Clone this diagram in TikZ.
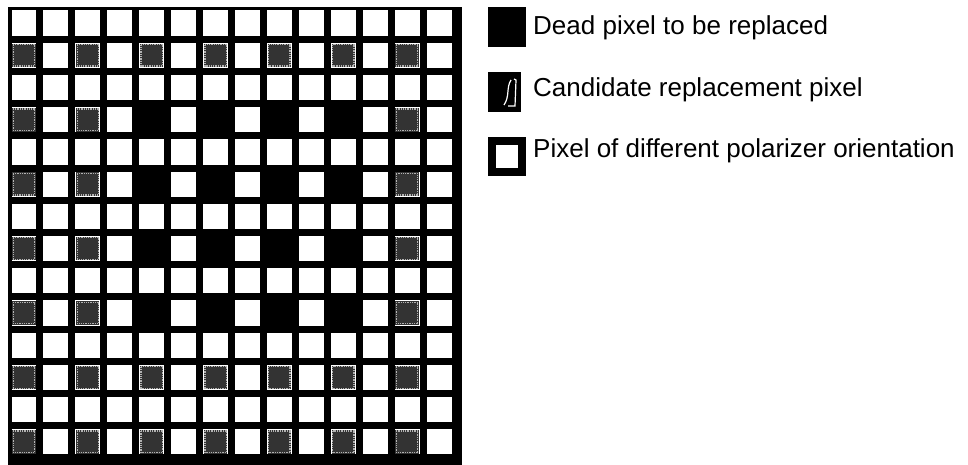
\documentclass[tikz,border=0pt]{standalone}
\usepackage{fontspec}
\setmainfont{Liberation Sans}
\begin{document}
\begin{tikzpicture}[x=1pt,y=-1pt,
  legendtext/.style={anchor=base west,inner sep=0pt,font=\fontsize{26}{30}\selectfont},
  candfill/.style={fill=black!80},
  candedge/.style={draw=black!30,densely dotted,line width=1.3pt}]
\useasboundingbox (0,0) rectangle (968,465);
% grid background (grid lines and dead pixels are black)
\fill[black] (8,7) rectangle (462,465);
\def\px{31.93}\def\py{32.21}
\foreach \r in {1,...,14}{
  \foreach \c in {1,...,14}{
    \pgfmathtruncatemacro\kind{(mod(\r,2)==0 && mod(\c,2)==1) ? ((\r>=4 && \r<=10 && \c>=5 && \c<=11) ? 2 : 1) : 0}
    \pgfmathsetmacro\xa{8+3.5+(\c-1)*\px}
    \pgfmathsetmacro\ya{7+3.5+(\r-1)*\py}
    \pgfmathsetmacro\xb{\xa+\px-7}
    \pgfmathsetmacro\yb{\ya+\py-7}
    \ifnum\kind=0
      \fill[white] (\xa,\ya) rectangle (\xb,\yb);
    \fi
    \ifnum\kind=1
      \fill[white] (\xa,\ya) rectangle (\xb,\yb);
      \fill[candfill] (\xa+0.8,\ya+0.8) rectangle (\xb-0.8,\yb-0.8);
      \draw[candedge] (\xa+1.8,\ya+1.8) rectangle (\xb-1.8,\yb-1.8);
    \fi
  }
}
% legend
\fill[black] (488,7) rectangle (526,47);
\node[legendtext] (deadlbl) at (533,35) {Dead pixel to be replaced};
\fill[black] (488,72) rectangle (521,112);
\draw[white,line width=1.2pt] (511,80) .. controls (506,88) and (510,96) .. (504,105);
\draw[white,line width=1.2pt] (514,79) -- (516,80) -- (515,106) -- (508,106);
\node[legendtext] (candlbl) at (533,97) {Candidate replacement pixel};
\fill[black] (488,137) rectangle (526,176);
\fill[white] (496,145) rectangle (518,168);
\node[legendtext] (difflbl) at (533,158) {Pixel of different polarizer orientation};
\end{tikzpicture}
\end{document}
